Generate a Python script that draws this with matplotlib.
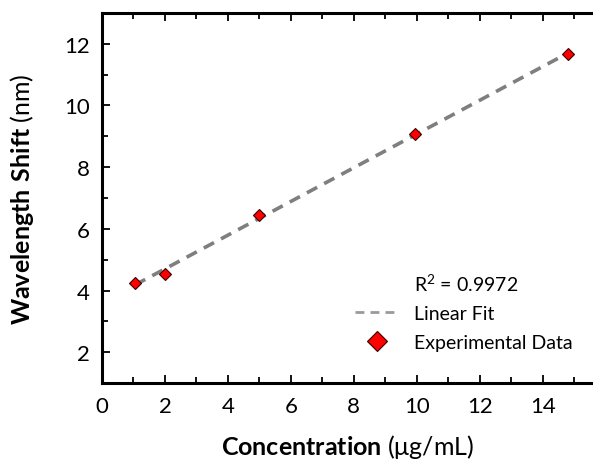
import numpy as np
import matplotlib
matplotlib.use("Agg")
import matplotlib.pyplot as plt
from matplotlib.lines import Line2D

plt.rcParams["font.family"] = ["Lato", "DejaVu Sans"]
plt.rcParams["mathtext.fontset"] = "custom"
plt.rcParams["mathtext.rm"] = "Lato"
plt.rcParams["mathtext.bf"] = "Lato:bold"

# data
conc = [1.05, 2.0, 5.0, 9.95, 14.8]
shift = [4.25, 4.55, 6.45, 9.06, 11.67]
r2_text = "R$^2$ = 0.9972"
xticks = [0, 2, 4, 6, 8, 10, 12, 14]
yticks = [2, 4, 6, 8, 10, 12]

slope, icpt = np.polyfit(conc, shift, 1)
xfit = np.array([conc[0], conc[-1]])
yfit = slope * xfit + icpt

fig = plt.figure(figsize=(5.93, 4.64), dpi=100)
ax = fig.add_axes([0.172, 0.172, 0.828, 0.798])

ax.plot(xfit, yfit, linestyle=(0, (3.2, 2.2)), color="#7f7f7f", lw=2.6, zorder=2)
ax.plot(conc, shift, linestyle="", marker="D", markersize=6.5,
        markerfacecolor="#ff0000", markeredgecolor="#3a0000", markeredgewidth=0.8, zorder=3)

ax.set_xlim(0, 15.6)
ax.set_ylim(1, 13)
ax.set_xticks(xticks)
ax.set_yticks(yticks)
ax.set_xticks(np.arange(1, 16, 2), minor=True)
ax.set_yticks(np.arange(3, 14, 2), minor=True)
ax.tick_params(which="both", direction="in", top=True, right=False, width=1.3,
               labelsize=16, colors="black", pad=9)
ax.tick_params(which="major", length=6)
ax.tick_params(which="minor", length=4)
for s in ["left", "bottom", "top"]:
    ax.spines[s].set_linewidth(2.2)
ax.spines["right"].set_visible(False)

ax.set_xlabel(r"$\bf{Concentration}$ (μg/mL)", fontsize=18, labelpad=12)
ax.set_ylabel(r"$\bf{Wavelength\ Shift}$ (nm)", fontsize=18, labelpad=20)

# legend-like block
handles = [Line2D([], [], linestyle="", marker=""),
           Line2D([], [], linestyle=(0, (3.2, 2.2)), color="#9a9a9a", lw=2.0),
           Line2D([], [], linestyle="", marker="D", markersize=10,
                  markerfacecolor="#ff0000", markeredgecolor="#3a0000", markeredgewidth=0.8)]
labels = [r2_text, "Linear Fit", "Experimental Data"]
leg = ax.legend(handles, labels, loc="lower left", bbox_to_anchor=(0.48, 0.04),
                frameon=False, fontsize=14, handlelength=2.2, labelspacing=0.6,
                handletextpad=0.8)

fig.savefig("out.png", dpi=100)
